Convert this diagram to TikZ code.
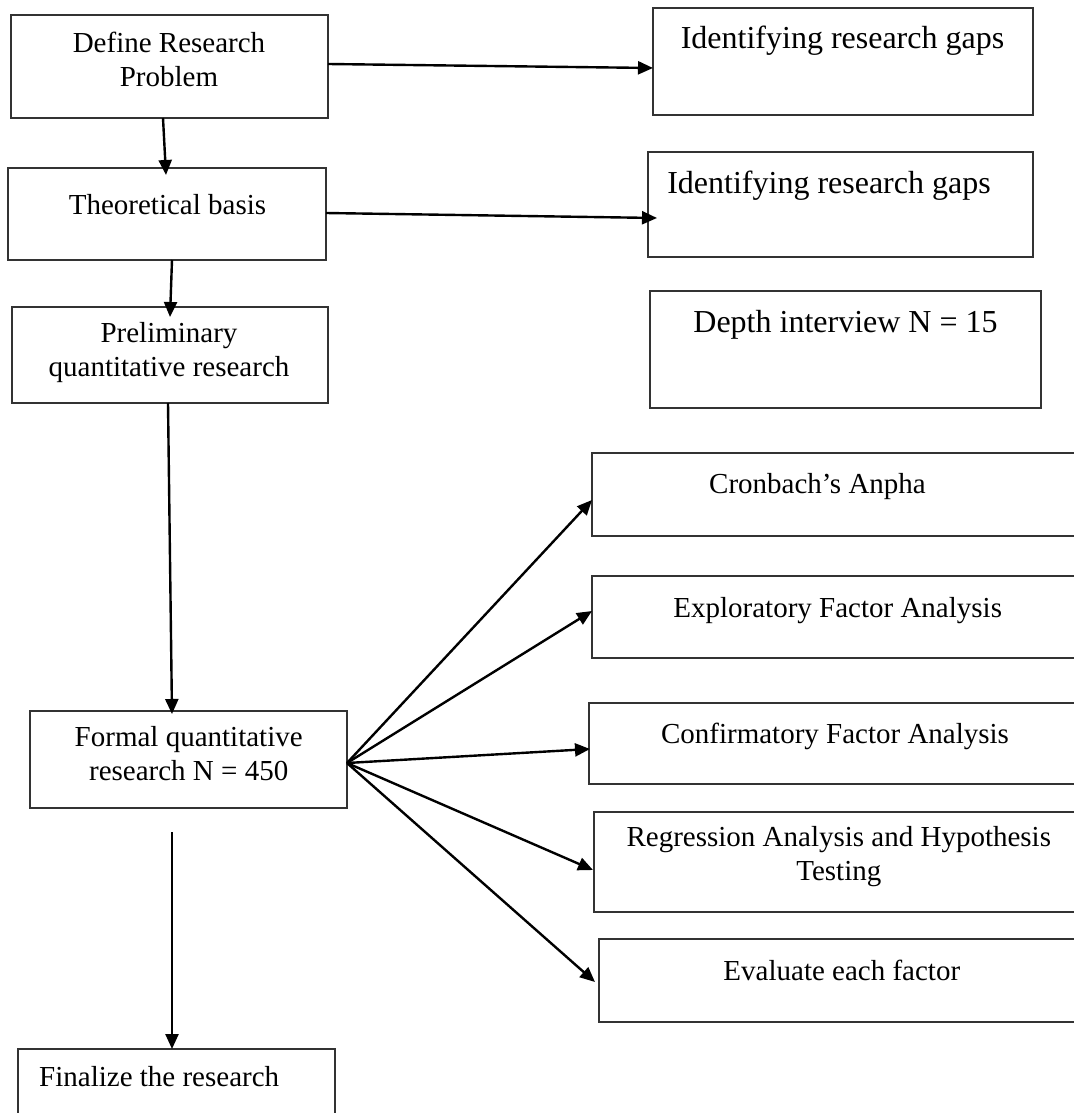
\documentclass[tikz,border=0pt]{standalone}
\usepackage{fontspec}
\setmainfont{Liberation Serif}
\usetikzlibrary{arrows.meta,calc,fit}
\begin{document}
\begin{tikzpicture}[x=1pt,y=-1pt,
  box/.style={draw=black!80,line width=1.2pt,inner sep=0pt,outer sep=0pt},
  txt/.style={inner sep=0pt,font=\fontsize{29}{34}\selectfont,align=center},
  bigtxt/.style={inner sep=0pt,font=\fontsize{32}{37}\selectfont},
  arr/.style={draw=black,line width=2.4pt,-{Triangle[length=15pt,width=13pt]}}]
\useasboundingbox (0,0) rectangle (1073,1113);
% boxes
\node[box,fit={(11,15) (328,118)}] (b1) {};
\node[box,fit={(653,8) (1033,115)}] (g1) {};
\node[box,fit={(8,168) (326,260)}] (b2) {};
\node[box,fit={(648,152) (1033,257)}] (g2) {};
\node[box,fit={(12,307) (328,403)}] (b3) {};
\node[box,fit={(650,291) (1041,408)}] (dp) {};
\node[box,fit={(592,453) (1090,536)}] (c1) {};
\node[box,fit={(592,576) (1090,658)}] (c2) {};
\node[box,fit={(589,703) (1090,784)}] (c3) {};
\node[box,fit={(594,812) (1090,912)}] (c4) {};
\node[box,fit={(599,939) (1090,1022)}] (c5) {};
\node[box,fit={(30,711) (347,808)}] (fq) {};
\node[box,fit={(18,1049) (335,1125)}] (fin) {};
% texts
\node[txt] (t1) at (169,59) {Define Research\\Problem};
\node[bigtxt,anchor=base] (tg1) at (842.5,49) {Identifying research gaps};
\node[txt,anchor=base] (t2) at (167.5,214) {Theoretical basis};
\node[bigtxt,anchor=base] (tg2) at (829,193) {Identifying research gaps};
\node[txt] (t3) at (169,353) {Preliminary\\quantitative research};
\node[bigtxt,anchor=base] (tdp) at (845.5,332) {Depth interview N = 15};
\node[txt,anchor=base] (tc1) at (817.5,493) {Cronbach’s Anpha};
\node[txt,anchor=base] (tc2) at (837.7,617) {Exploratory Factor Analysis};
\node[txt,anchor=base] (tc3) at (835,743) {Confirmatory Factor Analysis};
\node[txt] (tc4) at (838.8,857) {Regression Analysis and Hypothesis\\Testing};
\node[txt,anchor=base] (tc5) at (841.8,980) {Evaluate each factor};
\node[txt] (tfq) at (188.7,754) {Formal quantitative\\research N = 450};
\node[txt,anchor=base west] (tfin) at (39,1086) {Finalize the research};
% connectors
\draw[arr] ($(b1.east)+(0,-2.5)$) -- ($(g1.west)+(0,6.5)$);
\draw[arr] ($(b1.south)+(-6.5,0)$) -- ($(b2.north)+(-1,7)$);
\draw[arr] ($(b2.east)+(0,-1)$) -- ($(g2.west)+(9,13.5)$);
\draw[arr] ($(b2.south)+(5,0)$) -- ($(b3.north)+(0,10)$);
\draw[arr] ($(b3.south)+(-2,0)$) -- ($(fq.north)+(-16.5,3)$);
\coordinate (fs) at ($(fq.south)+(-16.5,24)$);
\draw[arr] (fs) -- ($(fin.north)+(-4.5,0)$);
\coordinate (o) at ($(fq.east)+(0,3.5)$);
\draw[arr] (o) -- ($(c1.west)+(0,5.5)$);
\draw[arr] (o) -- ($(c2.west)+(0,-6)$);
\draw[arr] (o) -- ($(c3.west)+(1,5.5)$);
\draw[arr] (o) -- ($(c4.west)+(-1,8)$);
\draw[arr] (o) -- ($(c5.west)+(-4,1.5)$);
\end{tikzpicture}
\end{document}
